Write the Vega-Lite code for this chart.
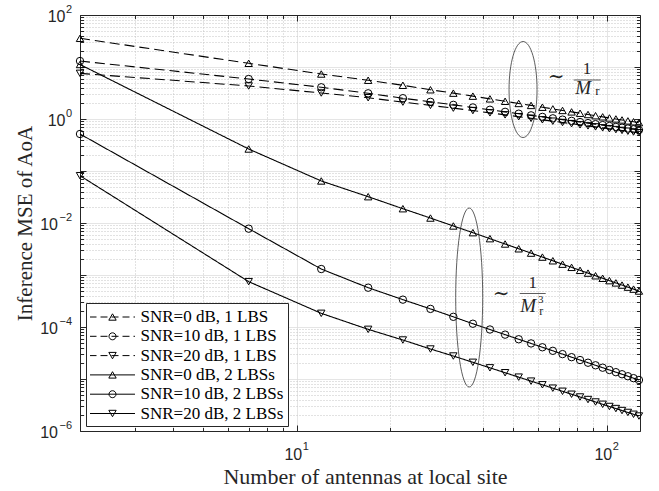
{
  "$schema": "https://vega.github.io/schema/vega-lite/v6.json",
  "width": 560,
  "height": 416,
  "autosize": {"type": "none"},
  "padding": {"left": 80, "top": 15, "right": 19, "bottom": 60},
  "background": "white",
  "config": {"view": {"stroke": null}, "font": "Liberation Sans"},
  "datasets": {
    "curves": [
      {"x":2,"y":35.6,"s":"SNR=0 dB, 1 LBS"},{"x":7,"y":11.78,"s":"SNR=0 dB, 1 LBS"},{"x":12,"y":7.33,"s":"SNR=0 dB, 1 LBS"},{"x":17,"y":5.56,"s":"SNR=0 dB, 1 LBS"},{"x":22,"y":4.45,"s":"SNR=0 dB, 1 LBS"},{"x":27,"y":3.65,"s":"SNR=0 dB, 1 LBS"},{"x":32,"y":3.14,"s":"SNR=0 dB, 1 LBS"},{"x":37,"y":2.75,"s":"SNR=0 dB, 1 LBS"},{"x":42,"y":2.44,"s":"SNR=0 dB, 1 LBS"},{"x":47,"y":2.19,"s":"SNR=0 dB, 1 LBS"},{"x":52,"y":1.99,"s":"SNR=0 dB, 1 LBS"},{"x":57,"y":1.825,"s":"SNR=0 dB, 1 LBS"},{"x":62,"y":1.685,"s":"SNR=0 dB, 1 LBS"},{"x":67,"y":1.565,"s":"SNR=0 dB, 1 LBS"},{"x":72,"y":1.461,"s":"SNR=0 dB, 1 LBS"},{"x":77,"y":1.37,"s":"SNR=0 dB, 1 LBS"},{"x":82,"y":1.291,"s":"SNR=0 dB, 1 LBS"},{"x":87,"y":1.22,"s":"SNR=0 dB, 1 LBS"},{"x":92,"y":1.157,"s":"SNR=0 dB, 1 LBS"},{"x":97,"y":1.1,"s":"SNR=0 dB, 1 LBS"},{"x":102,"y":1.048,"s":"SNR=0 dB, 1 LBS"},{"x":107,"y":1.002,"s":"SNR=0 dB, 1 LBS"},{"x":112,"y":0.959,"s":"SNR=0 dB, 1 LBS"},{"x":117,"y":0.92,"s":"SNR=0 dB, 1 LBS"},{"x":122,"y":0.884,"s":"SNR=0 dB, 1 LBS"},{"x":127,"y":0.851,"s":"SNR=0 dB, 1 LBS"},
      {"x":2,"y":13.03,"s":"SNR=10 dB, 1 LBS"},{"x":7,"y":5.875,"s":"SNR=10 dB, 1 LBS"},{"x":12,"y":4.074,"s":"SNR=10 dB, 1 LBS"},{"x":17,"y":3.119,"s":"SNR=10 dB, 1 LBS"},{"x":22,"y":2.512,"s":"SNR=10 dB, 1 LBS"},{"x":27,"y":2.138,"s":"SNR=10 dB, 1 LBS"},{"x":32,"y":1.871,"s":"SNR=10 dB, 1 LBS"},{"x":37,"y":1.667,"s":"SNR=10 dB, 1 LBS"},{"x":42,"y":1.505,"s":"SNR=10 dB, 1 LBS"},{"x":47,"y":1.373,"s":"SNR=10 dB, 1 LBS"},{"x":52,"y":1.265,"s":"SNR=10 dB, 1 LBS"},{"x":57,"y":1.175,"s":"SNR=10 dB, 1 LBS"},{"x":62,"y":1.097,"s":"SNR=10 dB, 1 LBS"},{"x":67,"y":1.03,"s":"SNR=10 dB, 1 LBS"},{"x":72,"y":0.972,"s":"SNR=10 dB, 1 LBS"},{"x":77,"y":0.921,"s":"SNR=10 dB, 1 LBS"},{"x":82,"y":0.875,"s":"SNR=10 dB, 1 LBS"},{"x":87,"y":0.834,"s":"SNR=10 dB, 1 LBS"},{"x":92,"y":0.797,"s":"SNR=10 dB, 1 LBS"},{"x":97,"y":0.763,"s":"SNR=10 dB, 1 LBS"},{"x":102,"y":0.733,"s":"SNR=10 dB, 1 LBS"},{"x":107,"y":0.705,"s":"SNR=10 dB, 1 LBS"},{"x":112,"y":0.68,"s":"SNR=10 dB, 1 LBS"},{"x":117,"y":0.656,"s":"SNR=10 dB, 1 LBS"},{"x":122,"y":0.634,"s":"SNR=10 dB, 1 LBS"},{"x":127,"y":0.614,"s":"SNR=10 dB, 1 LBS"},
      {"x":2,"y":7.55,"s":"SNR=20 dB, 1 LBS"},{"x":7,"y":4.315,"s":"SNR=20 dB, 1 LBS"},{"x":12,"y":3.162,"s":"SNR=20 dB, 1 LBS"},{"x":17,"y":2.564,"s":"SNR=20 dB, 1 LBS"},{"x":22,"y":2.113,"s":"SNR=20 dB, 1 LBS"},{"x":27,"y":1.828,"s":"SNR=20 dB, 1 LBS"},{"x":32,"y":1.618,"s":"SNR=20 dB, 1 LBS"},{"x":37,"y":1.452,"s":"SNR=20 dB, 1 LBS"},{"x":42,"y":1.313,"s":"SNR=20 dB, 1 LBS"},{"x":47,"y":1.201,"s":"SNR=20 dB, 1 LBS"},{"x":52,"y":1.108,"s":"SNR=20 dB, 1 LBS"},{"x":57,"y":1.031,"s":"SNR=20 dB, 1 LBS"},{"x":62,"y":0.964,"s":"SNR=20 dB, 1 LBS"},{"x":67,"y":0.907,"s":"SNR=20 dB, 1 LBS"},{"x":72,"y":0.856,"s":"SNR=20 dB, 1 LBS"},{"x":77,"y":0.812,"s":"SNR=20 dB, 1 LBS"},{"x":82,"y":0.772,"s":"SNR=20 dB, 1 LBS"},{"x":87,"y":0.737,"s":"SNR=20 dB, 1 LBS"},{"x":92,"y":0.705,"s":"SNR=20 dB, 1 LBS"},{"x":97,"y":0.676,"s":"SNR=20 dB, 1 LBS"},{"x":102,"y":0.649,"s":"SNR=20 dB, 1 LBS"},{"x":107,"y":0.625,"s":"SNR=20 dB, 1 LBS"},{"x":112,"y":0.603,"s":"SNR=20 dB, 1 LBS"},{"x":117,"y":0.582,"s":"SNR=20 dB, 1 LBS"},{"x":122,"y":0.563,"s":"SNR=20 dB, 1 LBS"},{"x":127,"y":0.546,"s":"SNR=20 dB, 1 LBS"},
      {"x":2,"y":11.17,"s":"SNR=0 dB, 2 LBSs"},{"x":7,"y":0.2649,"s":"SNR=0 dB, 2 LBSs"},{"x":12,"y":0.0643,"s":"SNR=0 dB, 2 LBSs"},{"x":17,"y":0.03206,"s":"SNR=0 dB, 2 LBSs"},{"x":22,"y":0.01884,"s":"SNR=0 dB, 2 LBSs"},{"x":27,"y":0.01245,"s":"SNR=0 dB, 2 LBSs"},{"x":32,"y":0.00877,"s":"SNR=0 dB, 2 LBSs"},{"x":37,"y":0.00652,"s":"SNR=0 dB, 2 LBSs"},{"x":42,"y":0.004998,"s":"SNR=0 dB, 2 LBSs"},{"x":47,"y":0.003947,"s":"SNR=0 dB, 2 LBSs"},{"x":52,"y":0.003194,"s":"SNR=0 dB, 2 LBSs"},{"x":57,"y":0.002636,"s":"SNR=0 dB, 2 LBSs"},{"x":62,"y":0.00221,"s":"SNR=0 dB, 2 LBSs"},{"x":67,"y":0.001878,"s":"SNR=0 dB, 2 LBSs"},{"x":72,"y":0.001615,"s":"SNR=0 dB, 2 LBSs"},{"x":77,"y":0.001404,"s":"SNR=0 dB, 2 LBSs"},{"x":82,"y":0.00123,"s":"SNR=0 dB, 2 LBSs"},{"x":87,"y":0.001087,"s":"SNR=0 dB, 2 LBSs"},{"x":92,"y":0.0009667,"s":"SNR=0 dB, 2 LBSs"},{"x":97,"y":0.000865,"s":"SNR=0 dB, 2 LBSs"},{"x":102,"y":0.0007788,"s":"SNR=0 dB, 2 LBSs"},{"x":107,"y":0.0007046,"s":"SNR=0 dB, 2 LBSs"},{"x":112,"y":0.00064,"s":"SNR=0 dB, 2 LBSs"},{"x":117,"y":0.0005843,"s":"SNR=0 dB, 2 LBSs"},{"x":122,"y":0.0005352,"s":"SNR=0 dB, 2 LBSs"},{"x":127,"y":0.000492,"s":"SNR=0 dB, 2 LBSs"},
      {"x":2,"y":0.5152,"s":"SNR=10 dB, 2 LBSs"},{"x":7,"y":0.00778,"s":"SNR=10 dB, 2 LBSs"},{"x":12,"y":0.001303,"s":"SNR=10 dB, 2 LBSs"},{"x":17,"y":0.0005702,"s":"SNR=10 dB, 2 LBSs"},{"x":22,"y":0.0003357,"s":"SNR=10 dB, 2 LBSs"},{"x":27,"y":0.0002228,"s":"SNR=10 dB, 2 LBSs"},{"x":32,"y":0.000157,"s":"SNR=10 dB, 2 LBSs"},{"x":37,"y":0.0001156,"s":"SNR=10 dB, 2 LBSs"},{"x":42,"y":8.951e-5,"s":"SNR=10 dB, 2 LBSs"},{"x":47,"y":7.13e-5,"s":"SNR=10 dB, 2 LBSs"},{"x":52,"y":5.813e-5,"s":"SNR=10 dB, 2 LBSs"},{"x":57,"y":4.83e-5,"s":"SNR=10 dB, 2 LBSs"},{"x":62,"y":4.075e-5,"s":"SNR=10 dB, 2 LBSs"},{"x":67,"y":3.483e-5,"s":"SNR=10 dB, 2 LBSs"},{"x":72,"y":3.012e-5,"s":"SNR=10 dB, 2 LBSs"},{"x":77,"y":2.63e-5,"s":"SNR=10 dB, 2 LBSs"},{"x":82,"y":2.317e-5,"s":"SNR=10 dB, 2 LBSs"},{"x":87,"y":2.056e-5,"s":"SNR=10 dB, 2 LBSs"},{"x":92,"y":1.835e-5,"s":"SNR=10 dB, 2 LBSs"},{"x":97,"y":1.65e-5,"s":"SNR=10 dB, 2 LBSs"},{"x":102,"y":1.491e-5,"s":"SNR=10 dB, 2 LBSs"},{"x":107,"y":1.353e-5,"s":"SNR=10 dB, 2 LBSs"},{"x":112,"y":1.234e-5,"s":"SNR=10 dB, 2 LBSs"},{"x":117,"y":1.13e-5,"s":"SNR=10 dB, 2 LBSs"},{"x":122,"y":1.038e-5,"s":"SNR=10 dB, 2 LBSs"},{"x":127,"y":9.57e-6,"s":"SNR=10 dB, 2 LBSs"},
      {"x":2,"y":0.08128,"s":"SNR=20 dB, 2 LBSs"},{"x":7,"y":0.0007447,"s":"SNR=20 dB, 2 LBSs"},{"x":12,"y":0.0001832,"s":"SNR=20 dB, 2 LBSs"},{"x":17,"y":9.016e-5,"s":"SNR=20 dB, 2 LBSs"},{"x":22,"y":5.623e-5,"s":"SNR=20 dB, 2 LBSs"},{"x":27,"y":3.776e-5,"s":"SNR=20 dB, 2 LBSs"},{"x":32,"y":2.767e-5,"s":"SNR=20 dB, 2 LBSs"},{"x":37,"y":2.094e-5,"s":"SNR=20 dB, 2 LBSs"},{"x":42,"y":1.64e-5,"s":"SNR=20 dB, 2 LBSs"},{"x":47,"y":1.32e-5,"s":"SNR=20 dB, 2 LBSs"},{"x":52,"y":1.086e-5,"s":"SNR=20 dB, 2 LBSs"},{"x":57,"y":9.1e-6,"s":"SNR=20 dB, 2 LBSs"},{"x":62,"y":7.738e-6,"s":"SNR=20 dB, 2 LBSs"},{"x":67,"y":6.662e-6,"s":"SNR=20 dB, 2 LBSs"},{"x":72,"y":5.8e-6,"s":"SNR=20 dB, 2 LBSs"},{"x":77,"y":5.095e-6,"s":"SNR=20 dB, 2 LBSs"},{"x":82,"y":4.511e-6,"s":"SNR=20 dB, 2 LBSs"},{"x":87,"y":4.026e-6,"s":"SNR=20 dB, 2 LBSs"},{"x":92,"y":3.614e-6,"s":"SNR=20 dB, 2 LBSs"},{"x":97,"y":3.263e-6,"s":"SNR=20 dB, 2 LBSs"},{"x":102,"y":2.962e-6,"s":"SNR=20 dB, 2 LBSs"},{"x":107,"y":2.701e-6,"s":"SNR=20 dB, 2 LBSs"},{"x":112,"y":2.474e-6,"s":"SNR=20 dB, 2 LBSs"},{"x":117,"y":2.274e-6,"s":"SNR=20 dB, 2 LBSs"},{"x":122,"y":2.097e-6,"s":"SNR=20 dB, 2 LBSs"},{"x":127,"y":1.941e-6,"s":"SNR=20 dB, 2 LBSs"}
    ],
    "notes": [{"n":"a","x":53.7,"y":3.69},{"n":"b","x":36,"y":0.000369}],
    "ylab": [{"y":100,"e":"2"},{"y":1,"e":"0"},{"y":0.01,"e":"−2"},{"y":0.0001,"e":"−4"},{"y":0.000001,"e":"−6"}],
    "xlab": [{"x":10,"e":"1"},{"x":100,"e":"2"}]
  },
  "layer": [
    {
      "data": {"name":"curves"},
      "mark": {"type":"line","color":"black","strokeWidth":1.1},
      "encoding": {
        "x": {"field":"x","type":"quantitative","scale":{"type":"log","domain":[2,128],"nice":false},
          "axis":{"orient":"bottom","values":[2,3,4,5,6,7,8,9,10,20,30,40,50,60,70,80,90,100],"labels":false,"grid":true,
            "gridColor":{"condition":{"test":"abs(log(datum.value)/LN10-round(log(datum.value)/LN10))<0.001","value":"#dcdcdc"},"value":"#c4c4c4"},
            "gridDash":{"condition":{"test":"abs(log(datum.value)/LN10-round(log(datum.value)/LN10))<0.001","value":[1,0]},"value":[1,2]},
            "gridWidth":1,
            "tickSize":{"condition":{"test":"abs(log(datum.value)/LN10-round(log(datum.value)/LN10))<0.001","value":-6},"value":-3.5},
            "tickColor":"#262626","tickWidth":1,"domainColor":"#262626","domainWidth":1,
            "title":"Number of antennas at local site","titleFont":"Liberation Serif","titleFontSize":22,"titleFontWeight":"normal","titleColor":"#262626",
            "titleX":285,"titleY":52,"titleAlign":"center","titleBaseline":"alphabetic"}},
        "y": {"field":"y","type":"quantitative","scale":{"type":"log","domain":[0.000001,100],"nice":false},
          "axis":{"orient":"left","values":[1e-6,2e-6,3e-6,4e-6,5e-6,6e-6,7e-6,8e-6,9e-6,1e-5,2e-5,3e-5,4e-5,5e-5,6e-5,7e-5,8e-5,9e-5,1e-4,2e-4,3e-4,4e-4,5e-4,6e-4,7e-4,8e-4,9e-4,0.001,0.002,0.003,0.004,0.005,0.006,0.007,0.008,0.009,0.01,0.02,0.03,0.04,0.05,0.06,0.07,0.08,0.09,0.1,0.2,0.3,0.4,0.5,0.6,0.7,0.8,0.9,1,2,3,4,5,6,7,8,9,10,20,30,40,50,60,70,80,90,100],
            "labels":false,"grid":true,
            "gridColor":{"condition":{"test":"abs(log(datum.value)/LN10-round(log(datum.value)/LN10))<0.001","value":"#dcdcdc"},"value":"#c4c4c4"},
            "gridDash":{"condition":{"test":"abs(log(datum.value)/LN10-round(log(datum.value)/LN10))<0.001","value":[1,0]},"value":[1,2]},
            "gridWidth":1,
            "tickSize":{"condition":{"test":"abs(log(datum.value)/LN10-round(log(datum.value)/LN10))<0.001","value":-6},"value":-3.5},
            "tickColor":"#262626","tickWidth":1,"domainColor":"#262626","domainWidth":1,
            "title":"Inference MSE of AoA","titleFont":"Liberation Serif","titleFontSize":21,"titleFontWeight":"normal","titleColor":"#262626",
            "titleAngle":-90,"titleX":-49,"titleY":208,"titleAlign":"center","titleBaseline":"alphabetic"}},
        "detail": {"field":"s","type":"nominal"},
        "strokeDash": {"field":"s","type":"nominal","legend":null,
          "scale":{"domain":["SNR=0 dB, 1 LBS","SNR=10 dB, 1 LBS","SNR=20 dB, 1 LBS","SNR=0 dB, 2 LBSs","SNR=10 dB, 2 LBSs","SNR=20 dB, 2 LBSs"],
                   "range":[[10,5],[10,5],[10,5],[1,0],[1,0],[1,0]]}}
      }
    },
    {
      "data": {"name":"curves"},
      "mark": {"type":"point","filled":false,"color":"black","strokeWidth":1,"size":55,"opacity":1},
      "encoding": {
        "x": {"field":"x","type":"quantitative","scale":{"type":"log","domain":[2,128],"nice":false},
          "axis":{"orient":"top","values":[2,3,4,5,6,7,8,9,10,20,30,40,50,60,70,80,90,100],"labels":false,"grid":false,"title":null,
            "tickSize":{"condition":{"test":"abs(log(datum.value)/LN10-round(log(datum.value)/LN10))<0.001","value":-6},"value":-3.5},
            "tickColor":"#262626","tickWidth":1,"domainColor":"#262626","domainWidth":1}},
        "y": {"field":"y","type":"quantitative","scale":{"type":"log","domain":[0.000001,100],"nice":false},
          "axis":{"orient":"right","values":[1e-6,2e-6,3e-6,4e-6,5e-6,6e-6,7e-6,8e-6,9e-6,1e-5,2e-5,3e-5,4e-5,5e-5,6e-5,7e-5,8e-5,9e-5,1e-4,2e-4,3e-4,4e-4,5e-4,6e-4,7e-4,8e-4,9e-4,0.001,0.002,0.003,0.004,0.005,0.006,0.007,0.008,0.009,0.01,0.02,0.03,0.04,0.05,0.06,0.07,0.08,0.09,0.1,0.2,0.3,0.4,0.5,0.6,0.7,0.8,0.9,1,2,3,4,5,6,7,8,9,10,20,30,40,50,60,70,80,90,100],
            "labels":false,"grid":false,"title":null,
            "tickSize":{"condition":{"test":"abs(log(datum.value)/LN10-round(log(datum.value)/LN10))<0.001","value":-6},"value":-3.5},
            "tickColor":"#262626","tickWidth":1,"domainColor":"#262626","domainWidth":1}},
        "shape": {"field":"s","type":"nominal","legend":null,
          "scale":{"domain":["SNR=0 dB, 1 LBS","SNR=10 dB, 1 LBS","SNR=20 dB, 1 LBS","SNR=0 dB, 2 LBSs","SNR=10 dB, 2 LBSs","SNR=20 dB, 2 LBSs"],
                   "range":["triangle-up","circle","triangle-down","triangle-up","circle","triangle-down"]}}
      }
    },
    {
      "data": {"name":"curves"},
      "transform": [{"filter":"false"}],
      "mark": {"type":"point","filled":false,"color":"black","strokeWidth":1,"size":361,"opacity":1},
      "encoding": {
        "x": {"field":"x","type":"quantitative","scale":{"type":"log","domain":[2,128],"nice":false},"axis":null},
        "y": {"field":"y","type":"quantitative","scale":{"type":"log","domain":[0.000001,100],"nice":false},"axis":null},
        "shape": {"field":"s","type":"nominal",
          "scale":{"domain":["SNR=0 dB, 1 LBS","SNR=10 dB, 1 LBS","SNR=20 dB, 1 LBS","SNR=0 dB, 2 LBSs","SNR=10 dB, 2 LBSs","SNR=20 dB, 2 LBSs"],
                   "range":[
                     "M-2.368,0H-1.684M-1.263,0H-0.526M-0.105,0H0.632M1.053,0H1.789M2.211,0H2.368M0,-0.337L0.389,0.337L-0.389,0.337Z",
                     "M-2.368,0H-1.684M-1.263,0H-0.526M-0.105,0H0.632M1.053,0H1.789M2.211,0H2.368M0.368,0A0.368,0.368,0,1,1,-0.368,0A0.368,0.368,0,1,1,0.368,0Z",
                     "M-2.368,0H-1.684M-1.263,0H-0.526M-0.105,0H0.632M1.053,0H1.789M2.211,0H2.368M0,0.337L0.389,-0.337L-0.389,-0.337Z",
                     "M-2.368,0H2.368M0,-0.337L0.389,0.337L-0.389,0.337Z",
                     "M-2.368,0H2.368M0.368,0A0.368,0.368,0,1,1,-0.368,0A0.368,0.368,0,1,1,0.368,0Z",
                     "M-2.368,0H2.368M0,0.337L0.389,-0.337L-0.389,-0.337Z"]},
          "legend":{"title":null,"orient":"none","legendX":6,"legendY":288,"direction":"vertical","padding":4,
            "fillColor":"white","strokeColor":"#262626","cornerRadius":0,
            "symbolSize":361,"symbolOffset":12.5,"labelOffset":18,"rowPadding":1.3,
            "labelFont":"Liberation Serif","labelFontSize":17,"labelColor":"black","labelLimit":400,
            "symbolStrokeWidth":1,"symbolFillColor":"transparent","symbolStrokeColor":"black"}}
      }
    },
    {
      "data": {"name":"notes"},
      "transform": [{"filter":"datum.n=='a'"}],
      "mark": {"type":"point","filled":false,"stroke":"#333333","strokeWidth":0.8,"opacity":1,"size":9216,
        "shape":"M0.2917,0A0.2917,1,0,1,1,-0.2917,0A0.2917,1,0,1,1,0.2917,0ZM1.056,-0.198H1.619"},
      "encoding": {
        "x": {"field":"x","type":"quantitative","scale":{"type":"log","domain":[2,128],"nice":false},"axis":null},
        "y": {"field":"y","type":"quantitative","scale":{"type":"log","domain":[0.000001,100],"nice":false},"axis":null}}
    },
    {
      "data": {"name":"notes"},
      "transform": [{"filter":"datum.n=='b'"}],
      "mark": {"type":"point","filled":false,"stroke":"#333333","strokeWidth":0.8,"opacity":1,"size":32041,
        "shape":"M0.1508,0A0.1508,1,0,1,1,-0.1508,0A0.1508,1,0,1,1,0.1508,0ZM0.564,-0.0447H0.855"},
      "encoding": {
        "x": {"field":"x","type":"quantitative","scale":{"type":"log","domain":[2,128],"nice":false},"axis":null},
        "y": {"field":"y","type":"quantitative","scale":{"type":"log","domain":[0.000001,100],"nice":false},"axis":null}}
    },
    {"data":{"name":"notes"},"transform":[{"filter":"datum.n=='a'"}],
     "mark":{"type":"text","text":"∼","dx":33,"dy":-13,"font":"DejaVu Serif","fontSize":20,"color":"#262626","align":"center","baseline":"middle"},
     "encoding":{"x":{"field":"x","type":"quantitative","scale":{"type":"log","domain":[2,128],"nice":false},"axis":null},"y":{"field":"y","type":"quantitative","scale":{"type":"log","domain":[0.000001,100],"nice":false},"axis":null}}},
    {"data":{"name":"notes"},"transform":[{"filter":"datum.n=='a'"}],
     "mark":{"type":"text","text":"1","dx":64,"dy":-20.5,"font":"Liberation Serif","fontSize":17,"color":"#262626","align":"center","baseline":"middle"},
     "encoding":{"x":{"field":"x","type":"quantitative","scale":{"type":"log","domain":[2,128],"nice":false},"axis":null},"y":{"field":"y","type":"quantitative","scale":{"type":"log","domain":[0.000001,100],"nice":false},"axis":null}}},
    {"data":{"name":"notes"},"transform":[{"filter":"datum.n=='a'"}],
     "mark":{"type":"text","text":"M","dx":60,"dy":-2,"font":"Liberation Serif","fontStyle":"italic","fontSize":19,"color":"#262626","align":"center","baseline":"middle"},
     "encoding":{"x":{"field":"x","type":"quantitative","scale":{"type":"log","domain":[2,128],"nice":false},"axis":null},"y":{"field":"y","type":"quantitative","scale":{"type":"log","domain":[0.000001,100],"nice":false},"axis":null}}},
    {"data":{"name":"notes"},"transform":[{"filter":"datum.n=='a'"}],
     "mark":{"type":"text","text":"r","dx":74.5,"dy":1.5,"font":"Liberation Serif","fontSize":13,"color":"#262626","align":"center","baseline":"middle"},
     "encoding":{"x":{"field":"x","type":"quantitative","scale":{"type":"log","domain":[2,128],"nice":false},"axis":null},"y":{"field":"y","type":"quantitative","scale":{"type":"log","domain":[0.000001,100],"nice":false},"axis":null}}},
    {"data":{"name":"notes"},"transform":[{"filter":"datum.n=='b'"}],
     "mark":{"type":"text","text":"∼","dx":32,"dy":-4,"font":"DejaVu Serif","fontSize":20,"color":"#262626","align":"center","baseline":"middle"},
     "encoding":{"x":{"field":"x","type":"quantitative","scale":{"type":"log","domain":[2,128],"nice":false},"axis":null},"y":{"field":"y","type":"quantitative","scale":{"type":"log","domain":[0.000001,100],"nice":false},"axis":null}}},
    {"data":{"name":"notes"},"transform":[{"filter":"datum.n=='b'"}],
     "mark":{"type":"text","text":"1","dx":63.5,"dy":-14.5,"font":"Liberation Serif","fontSize":17,"color":"#262626","align":"center","baseline":"middle"},
     "encoding":{"x":{"field":"x","type":"quantitative","scale":{"type":"log","domain":[2,128],"nice":false},"axis":null},"y":{"field":"y","type":"quantitative","scale":{"type":"log","domain":[0.000001,100],"nice":false},"axis":null}}},
    {"data":{"name":"notes"},"transform":[{"filter":"datum.n=='b'"}],
     "mark":{"type":"text","text":"M","dx":59,"dy":8.5,"font":"Liberation Serif","fontStyle":"italic","fontSize":19,"color":"#262626","align":"center","baseline":"middle"},
     "encoding":{"x":{"field":"x","type":"quantitative","scale":{"type":"log","domain":[2,128],"nice":false},"axis":null},"y":{"field":"y","type":"quantitative","scale":{"type":"log","domain":[0.000001,100],"nice":false},"axis":null}}},
    {"data":{"name":"notes"},"transform":[{"filter":"datum.n=='b'"}],
     "mark":{"type":"text","text":"3","dx":71.5,"dy":2.5,"font":"Liberation Serif","fontSize":11,"color":"#262626","align":"center","baseline":"middle"},
     "encoding":{"x":{"field":"x","type":"quantitative","scale":{"type":"log","domain":[2,128],"nice":false},"axis":null},"y":{"field":"y","type":"quantitative","scale":{"type":"log","domain":[0.000001,100],"nice":false},"axis":null}}},
    {"data":{"name":"notes"},"transform":[{"filter":"datum.n=='b'"}],
     "mark":{"type":"text","text":"r","dx":72,"dy":13.5,"font":"Liberation Serif","fontSize":12,"color":"#262626","align":"center","baseline":"middle"},
     "encoding":{"x":{"field":"x","type":"quantitative","scale":{"type":"log","domain":[2,128],"nice":false},"axis":null},"y":{"field":"y","type":"quantitative","scale":{"type":"log","domain":[0.000001,100],"nice":false},"axis":null}}},
    {"data":{"name":"ylab"},"transform":[{"filter":"length(datum.e)==1"}],
     "mark":{"type":"text","text":"10","dx":-14.5,"dy":1.5,"font":"Liberation Sans","fontSize":16,"color":"#262626","align":"right","baseline":"middle"},
     "encoding":{"x":{"datum":2,"type":"quantitative","scale":{"type":"log","domain":[2,128],"nice":false},"axis":null},"y":{"field":"y","type":"quantitative","scale":{"type":"log","domain":[0.000001,100],"nice":false},"axis":null}}},
    {"data":{"name":"ylab"},"transform":[{"filter":"length(datum.e)==2"}],
     "mark":{"type":"text","text":"10","dx":-22,"dy":1.5,"font":"Liberation Sans","fontSize":16,"color":"#262626","align":"right","baseline":"middle"},
     "encoding":{"x":{"datum":2,"type":"quantitative","scale":{"type":"log","domain":[2,128],"nice":false},"axis":null},"y":{"field":"y","type":"quantitative","scale":{"type":"log","domain":[0.000001,100],"nice":false},"axis":null}}},
    {"data":{"name":"ylab"},
     "mark":{"type":"text","dx":-8,"dy":-5.5,"font":"Liberation Sans","fontSize":11,"color":"#262626","align":"right","baseline":"middle"},
     "encoding":{"x":{"datum":2,"type":"quantitative","scale":{"type":"log","domain":[2,128],"nice":false},"axis":null},"y":{"field":"y","type":"quantitative","scale":{"type":"log","domain":[0.000001,100],"nice":false},"axis":null},"text":{"field":"e"}}},
    {"data":{"name":"xlab"},
     "mark":{"type":"text","text":"10","dx":5.5,"dy":24,"font":"Liberation Sans","fontSize":16,"color":"#262626","align":"right","baseline":"middle"},
     "encoding":{"x":{"field":"x","type":"quantitative","scale":{"type":"log","domain":[2,128],"nice":false},"axis":null},"y":{"datum":0.000001,"type":"quantitative","scale":{"type":"log","domain":[0.000001,100],"nice":false},"axis":null}}},
    {"data":{"name":"xlab"},
     "mark":{"type":"text","dx":6,"dy":16,"font":"Liberation Sans","fontSize":11,"color":"#262626","align":"left","baseline":"middle"},
     "encoding":{"x":{"field":"x","type":"quantitative","scale":{"type":"log","domain":[2,128],"nice":false},"axis":null},"y":{"datum":0.000001,"type":"quantitative","scale":{"type":"log","domain":[0.000001,100],"nice":false},"axis":null},"text":{"field":"e"}}}
  ],
  "resolve": {"axis": {"x":"independent","y":"independent"}, "scale": {"shape":"independent"}}
}
